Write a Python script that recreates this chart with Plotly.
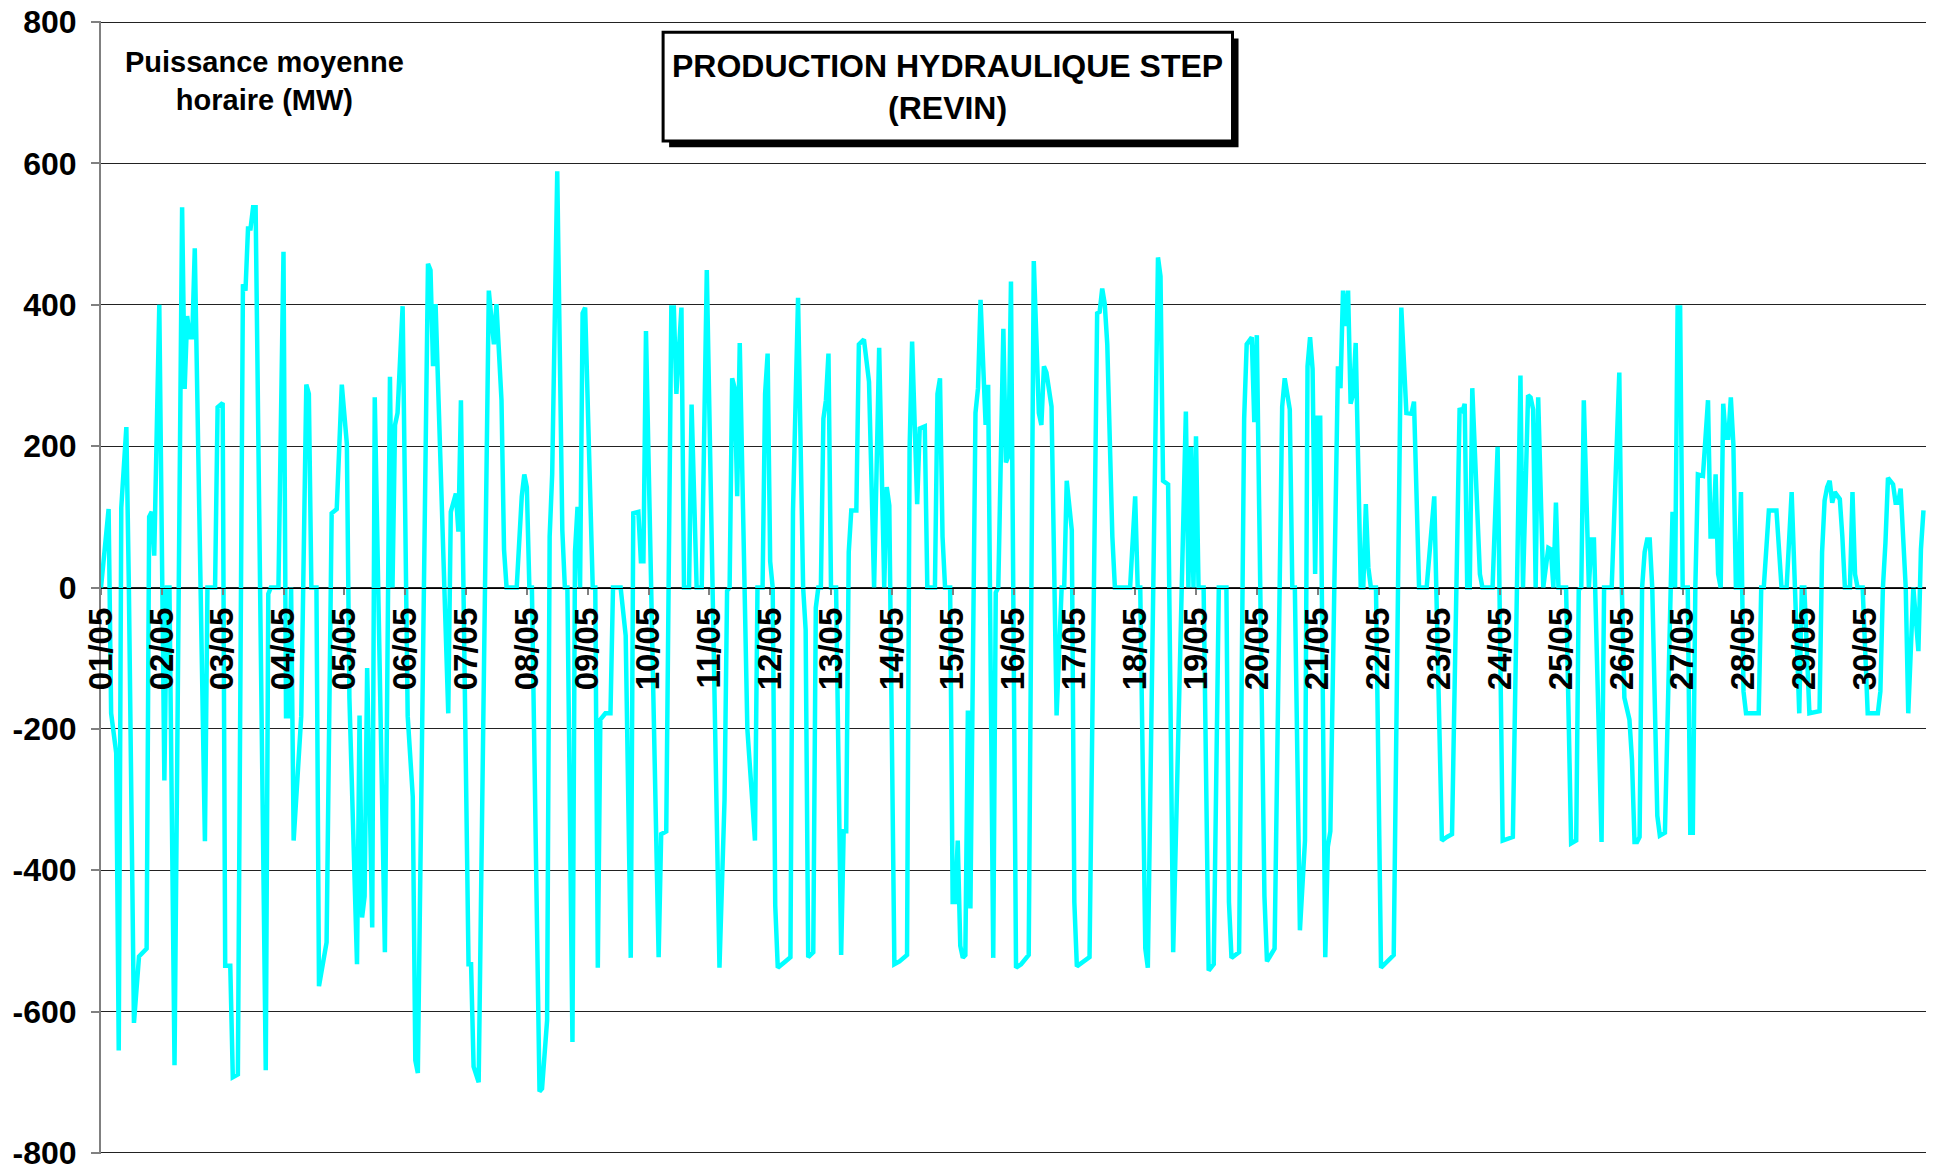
import plotly.graph_objects as go

# ---- data (hour index from 01/05 00:00, mean hourly power in MW) ----
hours = [0, 3, 4, 6, 7, 8, 10, 11, 13, 15, 18, 19, 20, 21, 23, 24, 25, 26, 27, 29,
         32, 33, 34, 35, 36, 37, 41, 42, 45, 46, 48, 49, 51, 52, 54, 56, 57, 58, 59, 60,
         61, 65, 66, 67, 70, 72, 73, 74, 75, 76, 79, 81, 82, 83, 85, 86, 89, 91, 93, 95,
         97, 98, 101, 102, 103, 104, 105, 107, 108, 112, 114, 115, 116, 117, 119, 121, 123, 124, 125, 129,
         130, 131, 132, 137, 138, 140, 141, 142, 145, 146, 147, 149, 153, 155, 156, 158, 159, 160, 164, 166,
         167, 168, 169, 170, 173, 174, 176, 177, 178, 180, 182, 183, 184, 186, 187, 188, 189, 190, 191, 194,
         195, 196, 197, 199, 201, 202, 205, 207, 209, 210, 212, 213, 214, 215, 218, 220, 221, 223, 225, 226,
         227, 229, 230, 232, 233, 235, 237, 239, 244, 246, 247, 248, 249, 250, 251, 252, 255, 258, 259, 261,
         262, 263, 264, 265, 266, 267, 270, 272, 273, 275, 277, 278, 279, 281, 282, 283, 284, 285, 286, 287,
         288, 290, 292, 293, 294, 295, 296, 298, 299, 301, 303, 305, 307, 309, 310, 311, 313, 315, 318, 319,
         320, 322, 323, 325, 326, 329, 330, 331, 332, 333, 335, 336, 337, 338, 339, 340, 341, 342, 343, 345,
         346, 347, 349, 350, 352, 353, 354, 356, 357, 358, 359, 361, 363, 366, 368, 370, 371, 372, 373, 375,
         377, 379, 380, 381, 383, 384, 385, 390, 393, 394, 395, 396, 397, 399, 400, 406, 408, 409, 410, 412,
         413, 417, 418, 419, 421, 423, 428, 429, 430, 431, 432, 433, 435, 437, 439, 441, 444, 445, 446, 449,
         451, 452, 454, 455, 456, 459, 460, 463, 466, 467, 469, 470, 471, 473, 475, 476, 477, 478, 479, 480,
         481, 483, 484, 485, 488, 489, 490, 491, 492, 493, 494, 495, 497, 498, 499, 500, 501, 503, 505, 510,
         513, 515, 517, 518, 520, 523, 526, 529, 531, 533, 536, 537, 538, 539, 540, 541, 544, 545, 549, 551,
         553, 557, 560, 561, 563, 564, 565, 566, 567, 569, 571, 572, 573, 574, 575, 578, 580, 582, 583, 584,
         585, 587, 588, 589, 592, 593, 596, 598, 599, 600, 601, 603, 604, 605, 606, 607, 608, 609, 610, 611,
         612, 614, 615, 617, 620, 621, 622, 623, 624, 626, 627, 628, 629, 630, 632, 634, 635, 636, 637, 638,
         639, 640, 641, 642, 643, 644, 645, 646, 647, 648, 649, 654, 655, 656, 658, 661, 663, 665, 667, 670,
         671, 672, 674, 678, 679, 680, 681, 682, 683, 684, 686, 687, 688, 690, 691, 692, 693, 695, 697, 701,
         702, 703, 704, 705, 707, 708, 709, 710, 712, 713, 715, 717, 718, 719]

mw = [0, 111, -178, -234, -655, 113, 227, 0, -616, -522, -511, 100, 107, 45, 400, 0, -273, 0, 0, -676,
      538, 281, 384, 354, 354, 480, -359, 0, 0, 255, 261, -535, -535, -693, -689, 429, 420, 508, 508, 538,
      538, -683, -9, 0, 0, 475, -182, -182, 0, -358, -182, 287, 274, 0, 0, -564, -502, 105, 111, 287,
      203, -156, -533, -181, -467, -437, -114, -481, 269, -516, 298, 0, 230, 247, 398, -182, -296, -669, -687, 458,
      449, 313, 401, -178, 107, 133, 79, 265, -533, -533, -678, -700, 420, 344, 401, 265, 54, 0, 0, 129,
      160, 142, 0, 0, -713, -709, -612, 72, 160, 589, 81, 0, 0, -643, 50, 114, 0, 388, 396, 0,
      0, -538, -187, -178, -178, 0, 0, -68, -524, 105, 107, 37, 37, 363, -156, -523, -349, -345, 396, 396,
      274, 396, 0, 0, 259, 0, 0, 449, -538, -300, -5, 0, 296, 282, 129, 346, -200, -358, 0, 0,
      274, 331, 37, 0, -450, -538, -529, -523, 107, 410, 0, -60, -523, -516, -29, 0, 0, 239, 265, 331,
      0, 0, -520, -345, -345, 50, 109, 109, 344, 351, 291, 0, 339, 0, 142, 116, -533, -529, -520, 195,
      348, 118, 225, 228, 0, 0, 274, 296, 72, 0, 0, -445, -445, -358, -507, -524, -520, -174, -454, 247,
      282, 407, 230, 287, -524, -7, 0, 366, 177, 186, 433, -538, -533, -520, 462, 247, 230, 313, 304, 256,
      -181, 0, 0, 151, 81, -445, -536, -523, 388, 390, 423, 401, 344, 72, 0, 0, 129, 0, 0, -511,
      -538, 467, 440, 151, 146, -516, 249, 0, 199, 0, 214, 0, 0, -542, -533, 0, 0, -445, -524, -516,
      239, 344, 354, 234, 357, -437, -529, -511, 256, 296, 252, 0, 0, -485, -358, 313, 354, 309, 19, 240,
      240, -523, -367, -345, 313, 282, 420, 370, 420, 260, 274, 346, 0, 0, 118, 28, 0, 0, -538, -520,
      396, 247, 246, 263, 0, 0, 129, -358, -353, -349, 254, 247, 260, 0, 0, 282, 19, 0, 0, 199,
      -358, -353, 300, 0, 272, 269, 252, 0, 269, 0, 56, 54, 0, 120, 0, 0, -362, -358, -3, 0,
      265, 0, 68, 68, -360, 0, 0, 212, 304, 0, -156, -187, -244, -360, -360, -353, 0, 50, 68, 68,
      0, -323, -351, -347, 107, 0, 396, 396, 0, 0, -347, -347, 0, 160, 158, 265, 72, 72, 160, 19,
      0, 260, 212, 212, 269, 203, 0, 0, 135, -147, -178, -178, 0, 0, 109, 109, 0, 0, 135, -178,
      0, 0, -178, -175, 50, 123, 142, 151, 120, 135, 125, 72, 0, 0, 135, 19, 0, 0, -178, -178,
      -147, 0, 63, 155, 146, 120, 120, 140, 0, -178, 0, -90, 54, 109]

day_ticks = list(range(0, 720, 24))
day_labels = ["%02d/05" % d for d in range(1, 31)]
y_ticks = [800, 600, 400, 200, 0, -200, -400, -600, -800]

title_lines = ["PRODUCTION HYDRAULIQUE STEP", "(REVIN)"]
unit_lines = ["Puissance moyenne", "horaire (MW)"]

FONT = "Liberation Sans, Arial, sans-serif"

fig = go.Figure()
fig.add_trace(go.Scatter(
    x=hours, y=mw, mode="lines",
    line=dict(color="#00FFFF", width=4.5),
    hoverinfo="x+y", showlegend=False,
))

fig.update_layout(
    width=1933, height=1176,
    margin=dict(l=101, r=7, t=21, b=22, autoexpand=False),
    paper_bgcolor="white", plot_bgcolor="white",
    font=dict(family=FONT, color="black"),
    xaxis=dict(
        range=[0, 720], anchor="free", position=0.5, automargin=False,
        tickvals=day_ticks, ticktext=day_labels, tickangle=-90,
        tickfont=dict(family=FONT, size=33, weight="bold", color="black"),
        ticks="outside", ticklen=6, tickcolor="#808080", tickwidth=1.5,
        showline=True, linecolor="black", linewidth=1,
        showgrid=False, zeroline=False, ticklabelstandoff=0,
    ),
    yaxis=dict(
        range=[-801.5, 801.5], tickvals=y_ticks, ticktext=[str(v) for v in y_ticks],
        automargin=False,
        tickfont=dict(family=FONT, size=32, weight="bold", color="black"),
        ticks="outside", ticklen=8, tickcolor="#808080", tickwidth=1.5,
        showline=True, linecolor="#808080", linewidth=2,
        showgrid=True, gridcolor="#222222", gridwidth=1,
        zeroline=False, ticklabelstandoff=8,
    ),
)

# title box with drop shadow (paper coordinates)
bx0, bx1, by0, by1 = 0.308, 0.620, 0.894, 0.990
sdx, sdy = 0.0033, 0.0055
fig.add_shape(type="rect", xref="paper", yref="paper",
              x0=bx0 + sdx, x1=bx1 + sdx, y0=by0 - sdy, y1=by1 - sdy,
              fillcolor="black", line=dict(color="black", width=0), layer="above")
fig.add_shape(type="rect", xref="paper", yref="paper",
              x0=bx0, x1=bx1, y0=by0, y1=by1,
              fillcolor="white", line=dict(color="black", width=3), layer="above")
fig.add_annotation(xref="paper", yref="paper", x=(bx0 + bx1) / 2, y=(by0 + by1) / 2,
                   xanchor="center", yanchor="middle",
                   text="<br>".join(title_lines), showarrow=False, align="center",
                   font=dict(family=FONT, size=32, weight="bold", color="black"))

fig.add_annotation(xref="paper", yref="paper", x=0.0895, y=0.947,
                   xanchor="center", yanchor="middle",
                   text="<br>".join(unit_lines), showarrow=False, align="center",
                   font=dict(family=FONT, size=29, weight="bold", color="black"))

fig.write_html("out.html", config={"displayModeBar": False},
               post_script="document.body.style.margin='0';")
